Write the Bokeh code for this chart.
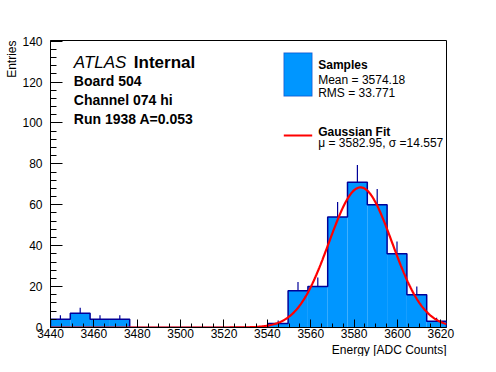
import numpy as np
from bokeh.plotting import figure
from bokeh.models import Range1d, SingleIntervalTicker, Label, BoxAnnotation, Title
from bokeh.embed import file_html
from bokeh.resources import INLINE

# ---- data ----
bin_low = 3440.0
bin_high = 3622.6
counts = [4, 7, 4, 4, 0, 0, 0, 0, 0, 0, 0, 2, 18, 20, 54, 71, 60, 36, 16, 3]
fit_mu = 3582.95
fit_sigma = 14.557
fit_amp = 68.5
x_tick_labels = ["3440", "3460", "3480", "3500", "3520", "3540", "3560", "3580", "3600", "3620"]
y_tick_labels = ["0", "20", "40", "60", "80", "100", "120", "140"]
header_lines = ["Board 504", "Channel 074 hi", "Run 1938 A=0.053"]
sample_stats = ["Mean = 3574.18", "RMS = 33.771"]
fit_stats = "\u03bc = 3582.95, \u03c3 =14.557"
x_title = "Energy [ADC Counts]"
y_title = "Entries"

FONT = "Liberation Sans"
FILL = "#0096ff"
EDGE = "#000099"

# layout (figure pixels)
W, H = 480, 356
FL, FT, FR = 50, 40, 446
FB_GUESS = 328
FH = FB_GUESS - FT


def sy_(ref_y):
    # screen y (from frame bottom) keeping distance from frame top
    return FH - (ref_y - FT)


counts = np.array(counts, dtype=float)
edges = np.linspace(bin_low, bin_high, len(counts) + 1)
centers = 0.5 * (edges[:-1] + edges[1:])
errs = np.sqrt(counts)

p = figure(width=W, height=H, output_backend="svg", toolbar_location=None,
           x_range=Range1d(bin_low, bin_high), y_range=Range1d(0, 140.3),
           min_border_left=FL, min_border_right=W - FR, min_border_top=FT, min_border_bottom=10)
p.background_fill_color = "white"
p.border_fill_color = "white"
p.outline_line_color = "black"
p.outline_line_width = 1
p.xgrid.visible = False
p.ygrid.visible = False

nz = counts > 0
p.segment(x0=centers[nz], y0=(counts - errs)[nz], x1=centers[nz], y1=(counts + errs)[nz],
          line_color=EDGE, line_width=1.2)
p.quad(left=edges[:-1], right=edges[1:], bottom=0, top=counts, fill_color=FILL, line_color=None)
sx = np.repeat(edges, 2)
sy = np.concatenate([[0], np.repeat(counts, 2), [0]])
p.line(sx, sy, line_color=EDGE, line_width=1.5)

gx = np.linspace(bin_low, bin_high, 400)
gy = fit_amp * np.exp(-0.5 * ((gx - fit_mu) / fit_sigma) ** 2)
p.line(gx, gy, line_color="#ff0000", line_width=2.2)

p.xaxis.ticker = SingleIntervalTicker(interval=20, num_minor_ticks=4)
p.xaxis.major_label_overrides = {int(s): s for s in x_tick_labels}
p.xaxis.major_tick_in = 8
p.xaxis.major_tick_out = 0
p.xaxis.minor_tick_in = 4
p.xaxis.minor_tick_out = 0
p.xaxis.major_label_standoff = 1
p.yaxis.ticker = SingleIntervalTicker(interval=20, num_minor_ticks=5)
p.yaxis.major_label_overrides = {int(s): s for s in y_tick_labels}
p.yaxis.major_tick_in = 12
p.yaxis.major_tick_out = 0
p.yaxis.minor_tick_in = 6
p.yaxis.minor_tick_out = 0
p.yaxis.major_label_standoff = 8
for ax in (p.xaxis, p.yaxis):
    ax.major_label_text_font = FONT
    ax.major_label_text_font_size = "12px"
    ax.major_label_text_color = "black"
    ax.axis_line_color = "black"
    ax.major_tick_line_color = "black"
    ax.minor_tick_line_color = "black"
p.xaxis.major_label_text_line_height = 0.9

p.add_layout(Title(text=x_title, align="right", text_font=FONT, text_font_size="12px",
                   text_font_style="normal", text_color="black", standoff=0, offset=0,
                   text_line_height=0.8), "below")
p.add_layout(Title(text=y_title, align="right", text_font=FONT, text_font_size="12px",
                   text_font_style="normal", text_color="black", standoff=2, offset=0), "left")

# ATLAS header
p.add_layout(Label(x=73.3 - FL, y=sy_(63.3), x_units="screen", y_units="screen", text="ATLAS",
                   text_font=FONT, text_font_style="italic", text_font_size="17px",
                   text_baseline="alphabetic", text_color="black"))
p.add_layout(Label(x=133.3 - FL, y=sy_(63.3), x_units="screen", y_units="screen", text="Internal",
                   text_font=FONT, text_font_style="bold", text_font_size="17px",
                   text_baseline="alphabetic", text_color="black"))
for i, t in enumerate(header_lines):
    p.add_layout(Label(x=73.3 - FL, y=sy_(81.3 + 19 * i), x_units="screen", y_units="screen", text=t,
                       text_font=FONT, text_font_style="bold", text_font_size="14px",
                       text_baseline="alphabetic", text_color="black"))

# legend
p.add_layout(BoxAnnotation(left=283.3 - FL, right=311.7 - FL, bottom=sy_(96.7), top=sy_(53.3),
                           left_units="screen", right_units="screen",
                           bottom_units="screen", top_units="screen",
                           fill_color=FILL, fill_alpha=1, line_color=EDGE, line_width=1.2))
p.add_layout(BoxAnnotation(left=283.3 - FL, right=311.7 - FL, bottom=sy_(137), top=sy_(135),
                           left_units="screen", right_units="screen",
                           bottom_units="screen", top_units="screen",
                           fill_color="#ff0000", fill_alpha=1, line_alpha=0))
p.add_layout(Label(x=317.7 - FL, y=sy_(65), x_units="screen", y_units="screen", text="Samples",
                   text_font=FONT, text_font_style="bold", text_font_size="12px",
                   text_baseline="alphabetic", text_color="black"))
for i, t in enumerate(sample_stats):
    p.add_layout(Label(x=317.7 - FL, y=sy_(80 + 13.3 * i), x_units="screen", y_units="screen", text=t,
                       text_font=FONT, text_font_size="12px",
                       text_baseline="alphabetic", text_color="black"))
p.add_layout(Label(x=317.7 - FL, y=sy_(132.7), x_units="screen", y_units="screen", text="Gaussian Fit",
                   text_font=FONT, text_font_style="bold", text_font_size="12px",
                   text_baseline="alphabetic", text_color="black"))
p.add_layout(Label(x=317.7 - FL, y=sy_(143.7), x_units="screen", y_units="screen", text=fit_stats,
                   text_font=FONT, text_font_size="12px",
                   text_baseline="alphabetic", text_color="black"))

open("out.html", "w").write(file_html(p, INLINE))
